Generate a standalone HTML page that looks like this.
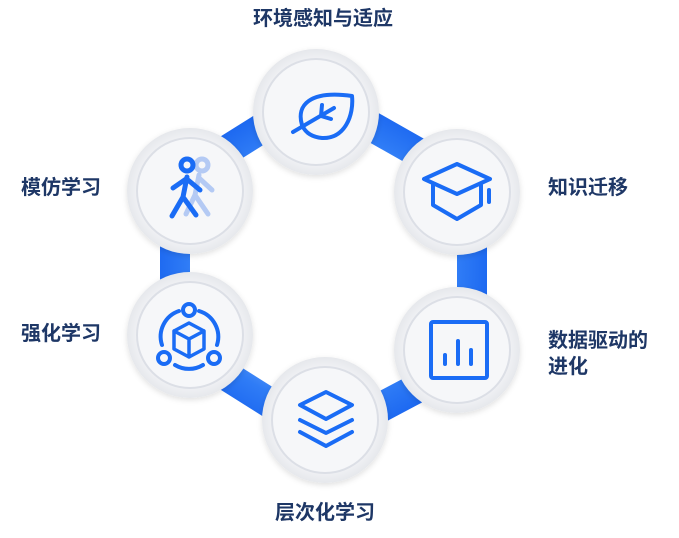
<!DOCTYPE html>
<html><head><meta charset="utf-8"><style>
body{margin:0;width:679px;height:538px;background:#fff;overflow:hidden}
svg{display:block}
text{font-family:"Liberation Sans","Noto Sans CJK SC",sans-serif;font-weight:bold;font-size:20px;fill:#1e3766}
</style></head><body>
<svg width="679" height="538" viewBox="0 0 679 538">
<defs>
<radialGradient id="bl" cx="323" cy="268" r="180" gradientUnits="userSpaceOnUse"><stop offset="0.55" stop-color="#6aa6fa"/><stop offset="0.75" stop-color="#2f7cf6"/><stop offset="1" stop-color="#1560ee"/></radialGradient>
<radialGradient id="halo" cx="0.5" cy="0.5" r="0.5"><stop offset="0.8" stop-color="#f2f3f6"/><stop offset="1" stop-color="#e6e8ec"/></radialGradient>
<filter id="sh" x="-30%" y="-30%" width="160%" height="160%"><feDropShadow dx="0" dy="2" stdDeviation="3" flood-color="#000" flood-opacity="0.12"/></filter>
<g id="node">
<circle r="63" fill="url(#halo)" filter="url(#sh)"/>
<circle r="53" fill="#f6f7f9" stroke="#dcdfe6" stroke-width="2"/>
</g>
</defs>
<polygon points="316,112 457,192 457,350 325,420 190,335 190,191" fill="none" stroke="url(#bl)" stroke-width="60" stroke-linejoin="round"/>
<polygon points="316,112 457,192 457,350 325,420 190,335 190,191" fill="#fff"/>
<use href="#node" x="316" y="112"/>
<use href="#node" x="457" y="192"/>
<use href="#node" x="457" y="350"/>
<use href="#node" x="325" y="420"/>
<use href="#node" x="190" y="335"/>
<use href="#node" x="190" y="191"/>
<g fill="none" stroke="#1a6cf5" stroke-width="4" stroke-linecap="round" stroke-linejoin="round">
<path d="M302,125 C296,105 310,90 352,96 C354,115 345,139 322,138 C311,137 305,132 302,125 Z"/>
<path d="M293,132 L334,108 M321,116 L322,105 M321,116 L331,119"/>
<path d="M457,164 L490,179 L457,194 L424,179 Z"/>
<path d="M433,185 L433,205 L457,219 L481,205 L481,185"/>
<path d="M489,190 L489,202"/>
<rect x="431" y="322" width="56" height="56" rx="2"/>
<path d="M445,355 L445,364 M458,341 L458,364 M471,350 L471,364"/>
<path d="M326,392 L352,405 L326,419 L300,405 Z"/>
<path d="M300,420 L326,433 L352,420"/>
<path d="M300,432 L326,446 L352,432"/>
<circle cx="189" cy="310" r="6"/><circle cx="164" cy="358" r="6"/><circle cx="214" cy="358" r="6"/>
<path d="M179,311 A27,27 0 0 0 162,345 M199,311 A27,27 0 0 1 217,345 M175,365 A27,27 0 0 0 203,365"/>
<path d="M189,323 L204,331 L204,349 L189,357 L174,349 L174,331 Z M174,331 L189,339 L204,331 M189,339 L189,357" stroke-width="3.5"/>
<g stroke="#b4caf4" stroke-width="5"><circle cx="202" cy="165" r="6"/><path d="M199,175 L195,195 L208,214 M195,195 L186,214 M199,178 L212,190"/></g>
<g stroke-width="5"><path d="M187,177 L183,197 L196,215 M183,197 L172,216 M186,179 L173,188 M188,180 L200,190"/>
<circle cx="187" cy="165" r="6"/></g>
</g>
<text x="323" y="25" text-anchor="middle">环境感知与适应</text>
<text x="548" y="194">知识迁移</text>
<text x="548" y="347">数据驱动的</text>
<text x="548" y="373">进化</text>
<text x="325" y="519" text-anchor="middle">层次化学习</text>
<text x="21" y="340">强化学习</text>
<text x="21" y="194">模仿学习</text>
</svg>
</body></html>
